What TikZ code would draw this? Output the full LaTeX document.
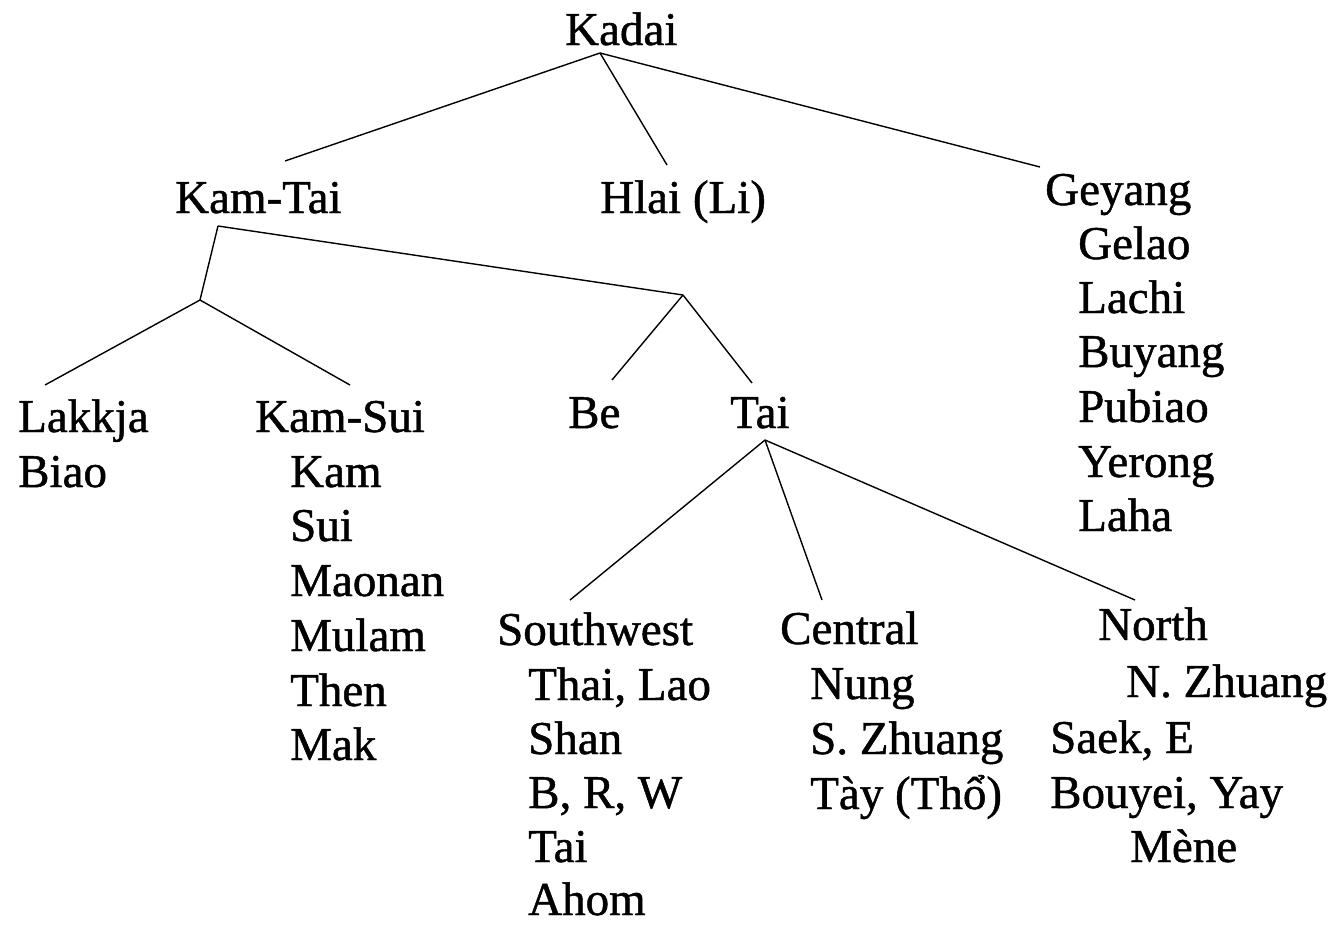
\documentclass[tikz,border=0pt]{standalone}
\usepackage{fontspec}
\setmainfont{Liberation Serif}[FakeBold=1]
\begin{document}
\begin{tikzpicture}[x=1pt,y=-1pt,
  lbl/.style={anchor=base west,inner sep=0pt,font=\fontsize{47}{55}\selectfont},
  edge/.style={line width=1.4pt}]
\useasboundingbox[fill=white] (0,0) rectangle (1344,924);
% top
\node[lbl] (kadai) at (565,45) {Kadai};
\node[lbl] (kamtai) at (175,213) {Kam-Tai};
\node[lbl] (hlai) at (600,213) {Hlai (Li)};
\node[lbl] (geyang) at (1045,205) {Geyang};
\node[lbl] (gelao) at (1078,259) {Gelao};
\node[lbl] (lachi) at (1078,313) {Lachi};
\node[lbl] (buyang) at (1078,367) {Buyang};
\node[lbl] (pubiao) at (1078,422) {Pubiao};
\node[lbl] (yerong) at (1078,477) {Yerong};
\node[lbl] (laha) at (1078,531) {Laha};
% second level
\node[lbl] (lakkja) at (18,432) {Lakkja};
\node[lbl] (biao) at (18,487) {Biao};
\node[lbl] (kamsui) at (255,432) {Kam-Sui};
\node[lbl] (kam) at (290,487) {Kam};
\node[lbl] (sui) at (290,541) {Sui};
\node[lbl] (maonan) at (290,596) {Maonan};
\node[lbl] (mulam) at (290,651) {Mulam};
\node[lbl] (then) at (290,706) {Then};
\node[lbl] (mak) at (290,760) {Mak};
\node[lbl] (be) at (568,428) {Be};
\node[lbl] (tai) at (730,428) {Tai};
% Tai branches
\node[lbl] (sw) at (497,645) {Southwest};
\node[lbl] (thai) at (528,700) {Thai, Lao};
\node[lbl] (shan) at (528,754) {Shan};
\node[lbl] (brw) at (528,808) {B, R, W};
\node[lbl] (tai2) at (528,862) {Tai};
\node[lbl] (ahom) at (528,915) {Ahom};
\node[lbl] (central) at (780,644) {Central};
\node[lbl] (nung) at (810,699) {Nung};
\node[lbl] (szhuang) at (810,754) {S. Zhuang};
\node[lbl] (tay) at (810,809) {Tày (Thổ)};
\node[lbl] (north) at (1098,640) {North};
\node[lbl] (nzhuang) at (1126,697) {N. Zhuang};
\node[lbl] (saek) at (1050,753) {Saek, E};
\node[lbl] (bouyei) at (1050,808) {Bouyei, Yay};
\node[lbl] (mene) at (1130,862) {Mène};
% junctions and attachment points
\coordinate (kadaiJ) at (600,53);
\coordinate (kamtaiT) at (285,161);
\coordinate (hlaiT) at (667,165);
\coordinate (geyangT) at (1040,167);
\coordinate (kamtaiJ) at (218,226);
\coordinate (lsJ) at (200,300);
\coordinate (btJ) at (683,295);
\coordinate (lakkjaT) at (45,385);
\coordinate (kamsuiT) at (350,385);
\coordinate (beT) at (612,380);
\coordinate (taiT) at (752,383);
\coordinate (taiJ) at (765,440);
\coordinate (swT) at (570,600);
\coordinate (centralT) at (822,600);
\coordinate (northT) at (1135,600);
% edges
\draw[edge] (kadaiJ) -- (kamtaiT);
\draw[edge] (kadaiJ) -- (hlaiT);
\draw[edge] (kadaiJ) -- (geyangT);
\draw[edge] (kamtaiJ) -- (lsJ);
\draw[edge] (kamtaiJ) -- (btJ);
\draw[edge] (lsJ) -- (lakkjaT);
\draw[edge] (lsJ) -- (kamsuiT);
\draw[edge] (btJ) -- (beT);
\draw[edge] (btJ) -- (taiT);
\draw[edge] (taiJ) -- (swT);
\draw[edge] (taiJ) -- (centralT);
\draw[edge] (taiJ) -- (northT);
\end{tikzpicture}
\end{document}
